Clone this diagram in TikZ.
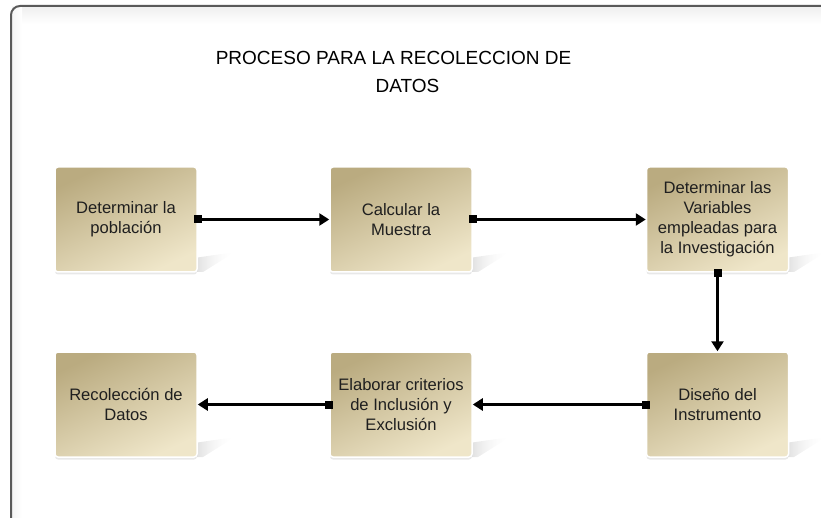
\documentclass[tikz,border=0pt]{standalone}
\usepackage{fontspec}
\setmainfont{Liberation Sans}
\usetikzlibrary{arrows.meta,fadings,shadows}
\definecolor{boxdark}{HTML}{BAAB80}
\definecolor{boxlight}{HTML}{EFE6C9}
\definecolor{framecol}{HTML}{5A5A5A}
\tikzset{
  procbox/.style={draw=white, line width=1.5pt, rounded corners=3pt,
    top color=boxdark, bottom color=boxlight, shading angle=25,
    minimum width=142pt, minimum height=105pt, inner sep=0pt,
    align=center, font=\fontsize{16.6}{20}\selectfont, text=black!88,
    drop shadow={shadow xshift=0pt, shadow yshift=-2.5pt, opacity=0.18}},
  conn/.style={line width=2.6pt, black,
    {Square[length=8pt,width=8pt]}-{Triangle[length=10pt,width=12pt]},
    shorten <=-4pt},
  persp/.style={left color=gray!75, right color=white, path fading=east}
}
\begin{document}
\begin{tikzpicture}[x=1pt,y=-1pt]
\useasboundingbox (0,0) rectangle (821,518);
\clip (0,0) rectangle (821,518);
% frame
\shade[top color=gray!12, bottom color=white] (12,7) rectangle (821,24);
\shade[left color=gray!8, right color=white] (12,7) rectangle (22,518);
\draw[framecol, line width=2pt, rounded corners=9pt] (11,530) -- (11,6) -- (840,6);
% title
\node[font=\fontsize{19}{22}\selectfont, anchor=base] (t1) at (393.5,65) {PROCESO PARA LA RECOLECCION DE};
\node[font=\fontsize{19}{22}\selectfont, anchor=base] (t2) at (407.5,93) {DATOS};
% perspective shadows
\foreach \R/\B in {197/272, 472/272, 788/272, 197/457, 472/457, 788/457}{
  \shade[persp] (\R-30,\B-10) -- (\R+38,\B-20) -- (\R+6,\B) -- (\R-30,\B) -- cycle;
}
% boxes
\node[procbox] (b1) at (126,219.5) {Determinar la\\población};
\node[procbox] (b2) at (401,219.5) {Calcular la\\Muestra};
\node[procbox] (b3) at (717.5,219.5) {Determinar las\\Variables\\empleadas para\\la Investigación};
\node[procbox] (b4) at (126,404.5) {Recolección de\\Datos};
\node[procbox] (b5) at (401,404.5) {Elaborar criterios\\de Inclusión y\\Exclusión};
\node[procbox] (b6) at (717.5,404.5) {Diseño del\\Instrumento};
% connectors
\draw[conn] (b1.east) -- (b2.west);
\draw[conn] (b2.east) -- (b3.west);
\draw[conn] (b3.south) -- (b6.north);
\draw[conn] (b6.west) -- (b5.east);
\draw[conn] (b5.west) -- (b4.east);
\end{tikzpicture}
\end{document}
